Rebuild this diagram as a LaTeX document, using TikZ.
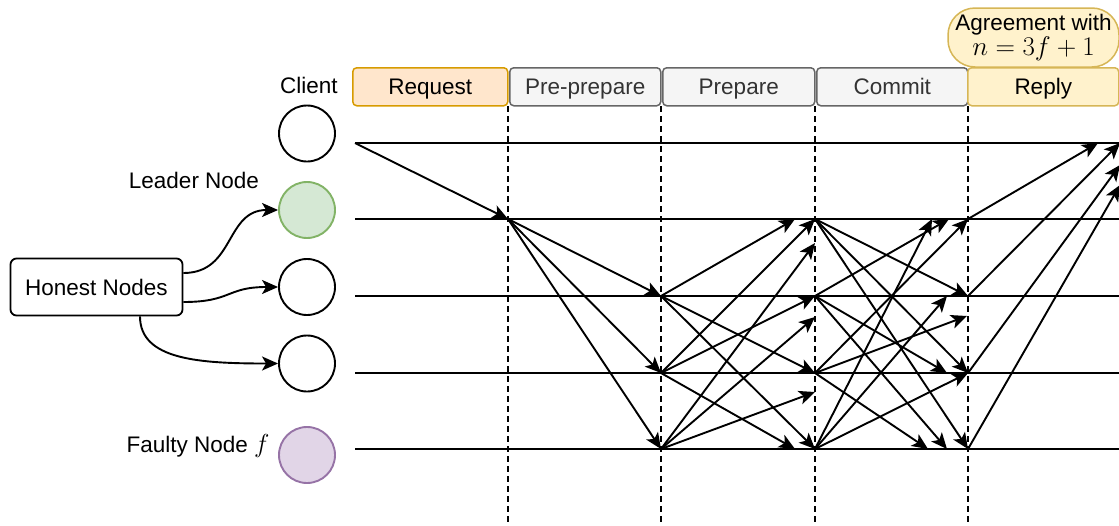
\RequirePackage{fix-cm}
\documentclass[tikz,border=0pt]{standalone}
\usepackage{fontspec}
\setmainfont{Liberation Sans}
\usetikzlibrary{arrows.meta,calc}
\definecolor{reqfill}{HTML}{FFE6CC}
\definecolor{reqline}{HTML}{D79B00}
\definecolor{grayfill}{HTML}{F5F5F5}
\definecolor{grayline}{HTML}{666666}
\definecolor{graytext}{HTML}{333333}
\definecolor{yelfill}{HTML}{FFF2CC}
\definecolor{yelline}{HTML}{D6B656}
\definecolor{leadfill}{HTML}{D5E8D4}
\definecolor{leadline}{HTML}{82B366}
\definecolor{faultfill}{HTML}{E1D5E7}
\definecolor{faultline}{HTML}{9673A6}

\begin{document}
\begin{tikzpicture}[x=1pt,y=-1pt,
  font=\fontsize{22.5}{27}\selectfont,
  phasebox/.style={draw, rounded corners=4pt, line width=1.5pt, minimum height=38pt,
    inner sep=0pt, anchor=north west, text height=16.2pt, text depth=1.5pt},
  graybox/.style={phasebox, fill=grayfill, draw=grayline, text=graytext},
  peer/.style={circle, draw, line width=1.9pt, minimum size=56pt, inner sep=0pt},
  timeline/.style={line width=1.9pt},
  vdash/.style={line width=1.7pt, dash pattern=on 6pt off 4pt},
  msg/.style={line width=1.9pt, -{Stealth[length=16pt,width=14pt,inset=4pt]}}
]
\useasboundingbox (0,0) rectangle (1119,525);
\clip (0,0) rectangle (1119,525);

% ---------- event points on the time lines ----------
\coordinate (C0) at (355,143);  \coordinate (CE) at (1125,143);
\coordinate (L0) at (355,219);  \coordinate (LE) at (1125,219);
\coordinate (N20) at (355,296); \coordinate (N2E) at (1125,296);
\coordinate (N30) at (355,373); \coordinate (N3E) at (1125,373);
\coordinate (F0) at (355,449);  \coordinate (FE) at (1125,449);

\foreach \x/\n in {508/a,661/b,815/c,968/d}{
  \coordinate (top\n) at (\x,106);
  \coordinate (bot\n) at (\x,530);
}

% request
\coordinate (L1) at (508,219);
% pre-prepare
\coordinate (P2) at (661,296);
\coordinate (P3) at (661,373);
\coordinate (PF) at (661,449);
% prepare
\coordinate (QL) at (815,219);
\coordinate (Q2) at (815,296);
\coordinate (Q3) at (815,373);
\coordinate (QF) at (815,449);
\coordinate (qL) at (795,219);
\coordinate (qF) at (795,449);
\coordinate (qx1) at (815,243);
\coordinate (qx2) at (815,317);
\coordinate (qx3) at (815,392);
% commit
\coordinate (DL) at (968,219);
\coordinate (D2) at (968,296);
\coordinate (D3) at (968,373);
\coordinate (DF) at (968,449);
\coordinate (dL1) at (949,219);
\coordinate (dL2) at (932,219);
\coordinate (d21) at (947,296);
\coordinate (d22) at (967,316);
\coordinate (d31) at (947,373);
\coordinate (dF1) at (947,449);
\coordinate (dF2) at (928,449);
% reply
\coordinate (R1) at (1098,143);
\coordinate (R2) at (1120,143);
\coordinate (R3) at (1120,165);
\coordinate (R4) at (1120,185);

% ---------- phase separators ----------
\foreach \n in {a,b,c,d}{ \draw[vdash] (top\n) -- (bot\n); }

% ---------- time lines ----------
\draw[timeline] (C0) -- (CE);
\draw[timeline] (L0) -- (LE);
\draw[timeline] (N20) -- (N2E);
\draw[timeline] (N30) -- (N3E);
\draw[timeline] (F0) -- (FE);

% ---------- messages ----------
% request
\draw[msg] (C0) -- (L1);
% pre-prepare
\draw[msg] (L1) -- (P2);
\draw[msg] (L1) -- (P3);
\draw[msg] (L1) -- (PF);
% prepare
\draw[msg] (P2) -- (qL);
\draw[msg] (P2) -- (Q3);
\draw[msg] (P2) -- (QF);
\draw[msg] (P3) -- (QL);
\draw[msg] (P3) -- (Q2);
\draw[msg] (P3) -- (qF);
\draw[msg] (PF) -- (qx1);
\draw[msg] (PF) -- (qx2);
\draw[msg] (PF) -- (qx3);
% commit
\draw[msg] (QL) -- (D2);
\draw[msg] (QL) -- (D3);
\draw[msg] (QL) -- (DF);
\draw[msg] (Q2) -- (dL1);
\draw[msg] (Q2) -- (d31);
\draw[msg] (Q2) -- (dF1);
\draw[msg] (Q3) -- (DL);
\draw[msg] (Q3) -- (d22);
\draw[msg] (Q3) -- (dF2);
\draw[msg] (QF) -- (dL2);
\draw[msg] (QF) -- (d21);
\draw[msg] (QF) -- (D3);
% reply
\draw[msg] (DL) -- (R1);
\draw[msg] (D2) -- (R2);
\draw[msg] (D3) -- (R3);
\draw[msg] (DF) -- (R4);

% ---------- phase headers ----------
\node[phasebox, fill=reqfill, draw=reqline, minimum width=155pt] (req) at (352,67) {Request};
\node[graybox, minimum width=151pt] (pre) at (509,67) {Pre-prepare};
\node[graybox, minimum width=152pt] (prep) at (662,67) {Prepare};
\node[graybox, minimum width=151pt] (com) at (816,67) {Commit};
\node[phasebox, fill=yelfill, draw=yelline, minimum width=151pt] (rep) at (967,67) {Reply};
\node[draw=yelline, fill=yelfill, line width=1.5pt, rounded corners=27pt,
      minimum width=171pt, minimum height=59pt, inner sep=0pt, align=center]
      (agr) at (1033.5,37.5) {Agreement with\\[-2pt]{\fontsize{27}{27}\selectfont$n = 3f + 1$}};

% ---------- participants ----------
\node[peer] (client) at (307,133.5) {};
\node[peer, fill=leadfill, draw=leadline] (leader) at (307,210) {};
\node[peer] (hon2) at (307,287) {};
\node[peer] (hon3) at (307,363.5) {};
\node[peer, fill=faultfill, draw=faultline] (faulty) at (307,455) {};

\node (clientlab) at (309,85) {Client};
\node (leaderlab) at (194,180) {Leader Node};
\node (faultylab) at (198,446) {Faulty Node {\fontsize{26}{26}\selectfont$f$}};

\node[draw, rounded corners=6pt, line width=1.8pt, minimum width=172pt, minimum height=57pt,
      inner sep=0pt] (honest) at (96.5,287) {Honest Nodes};

\draw[msg] ($(honest.east)+(0,-14)$) .. controls (235,273) and (225,210) .. (leader.west);
\draw[msg] ($(honest.east)+(0,15)$) .. controls (232,302) and (226,287) .. (hon2.west);
\draw[msg] ($(honest.south)+(43.5,0)$) .. controls (140,360) and (200,363.5) .. (hon3.west);
\end{tikzpicture}
\end{document}
